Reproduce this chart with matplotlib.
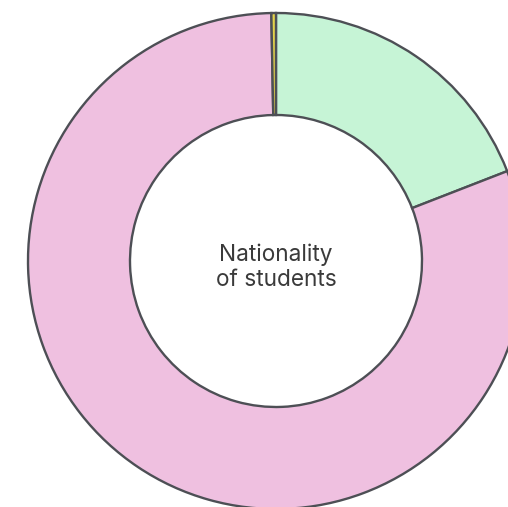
import matplotlib.pyplot as plt

# nationality shares (%), clockwise from 12 o'clock
labels = ["Group A", "Group B", "Group C"]
shares = [19.1, 80.6, 0.3]
colors = ["#c6f4d6", "#efc0e0", "#e3d24a"]

fig = plt.figure(figsize=(5.08, 5.07), dpi=100)
ax = fig.add_axes([0, 0, 1, 1])

ax.pie(shares, colors=colors, startangle=90, counterclock=False,
       center=(276, -261), radius=248,
       wedgeprops=dict(width=102, edgecolor="#4d4f55", linewidth=1.7))

ax.set_xlim(0, 508)
ax.set_ylim(-507, 0)
ax.set_aspect("equal")
ax.axis("off")

ax.text(276, -267, "Nationality\nof students", ha="center", va="center",
        fontsize=16.3, family=["Inter", "DejaVu Sans"], color="#3a3a3a",
        linespacing=1.2)

fig.savefig("out.png", dpi=100)
